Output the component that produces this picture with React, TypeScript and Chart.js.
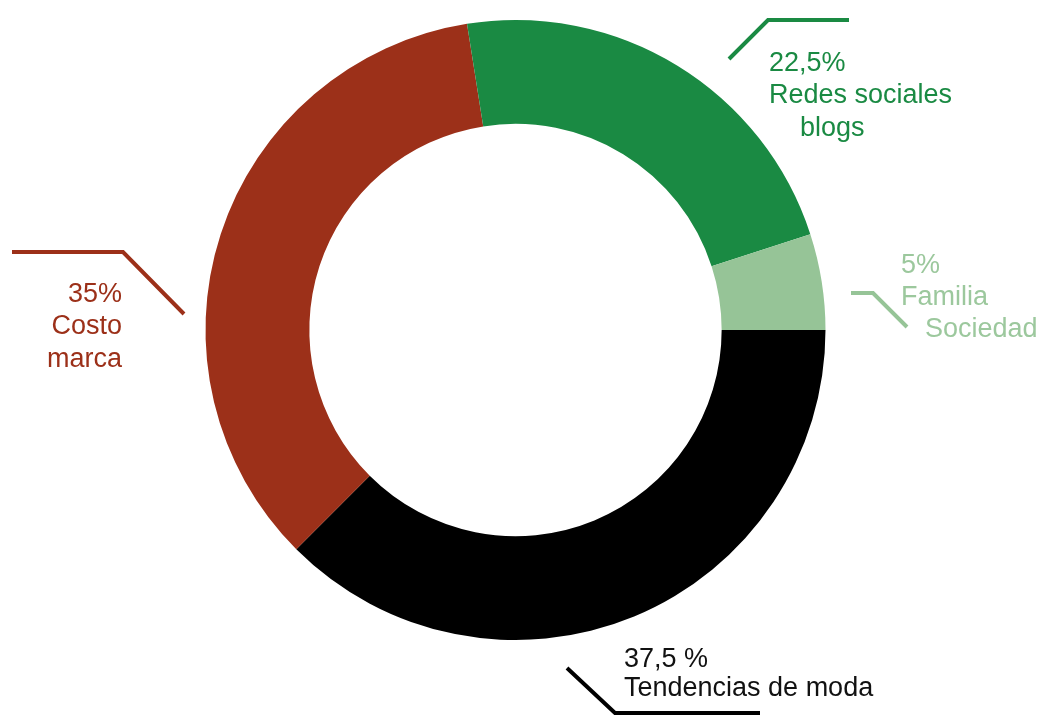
import React, { useEffect, useRef } from "react";
import { Chart, registerables } from "chart.js";

Chart.register(...registerables);

const categories = ["Tendencias de moda", "Costo marca", "Redes sociales blogs", "Familia Sociedad"];
const values = [37.5, 35, 22.5, 5];
const colors = ["#000000", "#9C3019", "#1A8A43", "#96C497"];
const textColors = ["#111111", "#9C3019", "#1A8A43", "#9CC89D"];
const labelLines = [
  ["37,5 %", "Tendencias de moda"],
  ["35%", "Costo", "marca"],
  ["22,5%", "Redes sociales", "blogs"],
  ["5%", "Familia", "Sociedad"],
];

// annotation layout, relative to doughnut centre (px)
const annot = [
  { line: [[51.5, 338], [99.5, 383], [244.5, 383]], align: "left", text: [[108.5, 337], [108.5, 366]] },
  { line: [[-503.5, -78], [-392.5, -78], [-331.5, -16]], align: "right", text: [[-393.5, -28], [-393.5, 4], [-393.5, 37]] },
  { line: [[213.5, -271], [252.5, -310], [333.5, -310]], align: "left", text: [[253.5, -259], [253.5, -227], [284.5, -194]] },
  { line: [[335.5, -37], [357.5, -37], [391.5, -3]], align: "left", text: [[385.5, -57], [385.5, -25], [409.5, 7]] },
];

const labelPlugin = {
  id: "leaderLabels",
  afterDraw(chart: any) {
    const ctx = chart.ctx;
    const meta = chart.getDatasetMeta(0);
    const arc = meta.data[0];
    const cx = arc.x;
    const cy = arc.y;
    ctx.save();
    ctx.font = '27px "Liberation Sans", Arial, sans-serif';
    ctx.textBaseline = "alphabetic";
    annot.forEach((a, i) => {
      ctx.strokeStyle = colors[i];
      ctx.lineWidth = 4;
      ctx.lineJoin = "miter";
      ctx.beginPath();
      a.line.forEach((p, j) => {
        if (j === 0) ctx.moveTo(cx + p[0], cy + p[1]);
        else ctx.lineTo(cx + p[0], cy + p[1]);
      });
      ctx.stroke();
      ctx.fillStyle = textColors[i];
      ctx.textAlign = a.align as CanvasTextAlign;
      labelLines[i].forEach((t, j) => {
        ctx.fillText(t, cx + a.text[j][0], cy + a.text[j][1]);
      });
    });
    ctx.restore();
  },
};

export default function App() {
  const ref = useRef<HTMLCanvasElement | null>(null);
  useEffect(() => {
    if (!ref.current) return;
    const chart = new Chart(ref.current, {
      type: "doughnut",
      data: {
        labels: categories,
        datasets: [
          {
            data: values,
            backgroundColor: colors,
            borderWidth: 0,
          },
        ],
      },
      options: {
        animation: false,
        responsive: false,
        rotation: 90,
        cutout: "66.5%",
        layout: { padding: { left: 205, right: 215, top: 20, bottom: 76 } },
        plugins: { legend: { display: false }, tooltip: { enabled: false } },
      },
      plugins: [labelPlugin],
    });
    return () => chart.destroy();
  }, []);
  return (
    <div style={{ position: "fixed", left: 0, top: 0, width: 1041, height: 716, background: "#fff" }}>
      <canvas ref={ref} width={1041} height={716} style={{ width: 1041, height: 716 }} />
    </div>
  );
}
